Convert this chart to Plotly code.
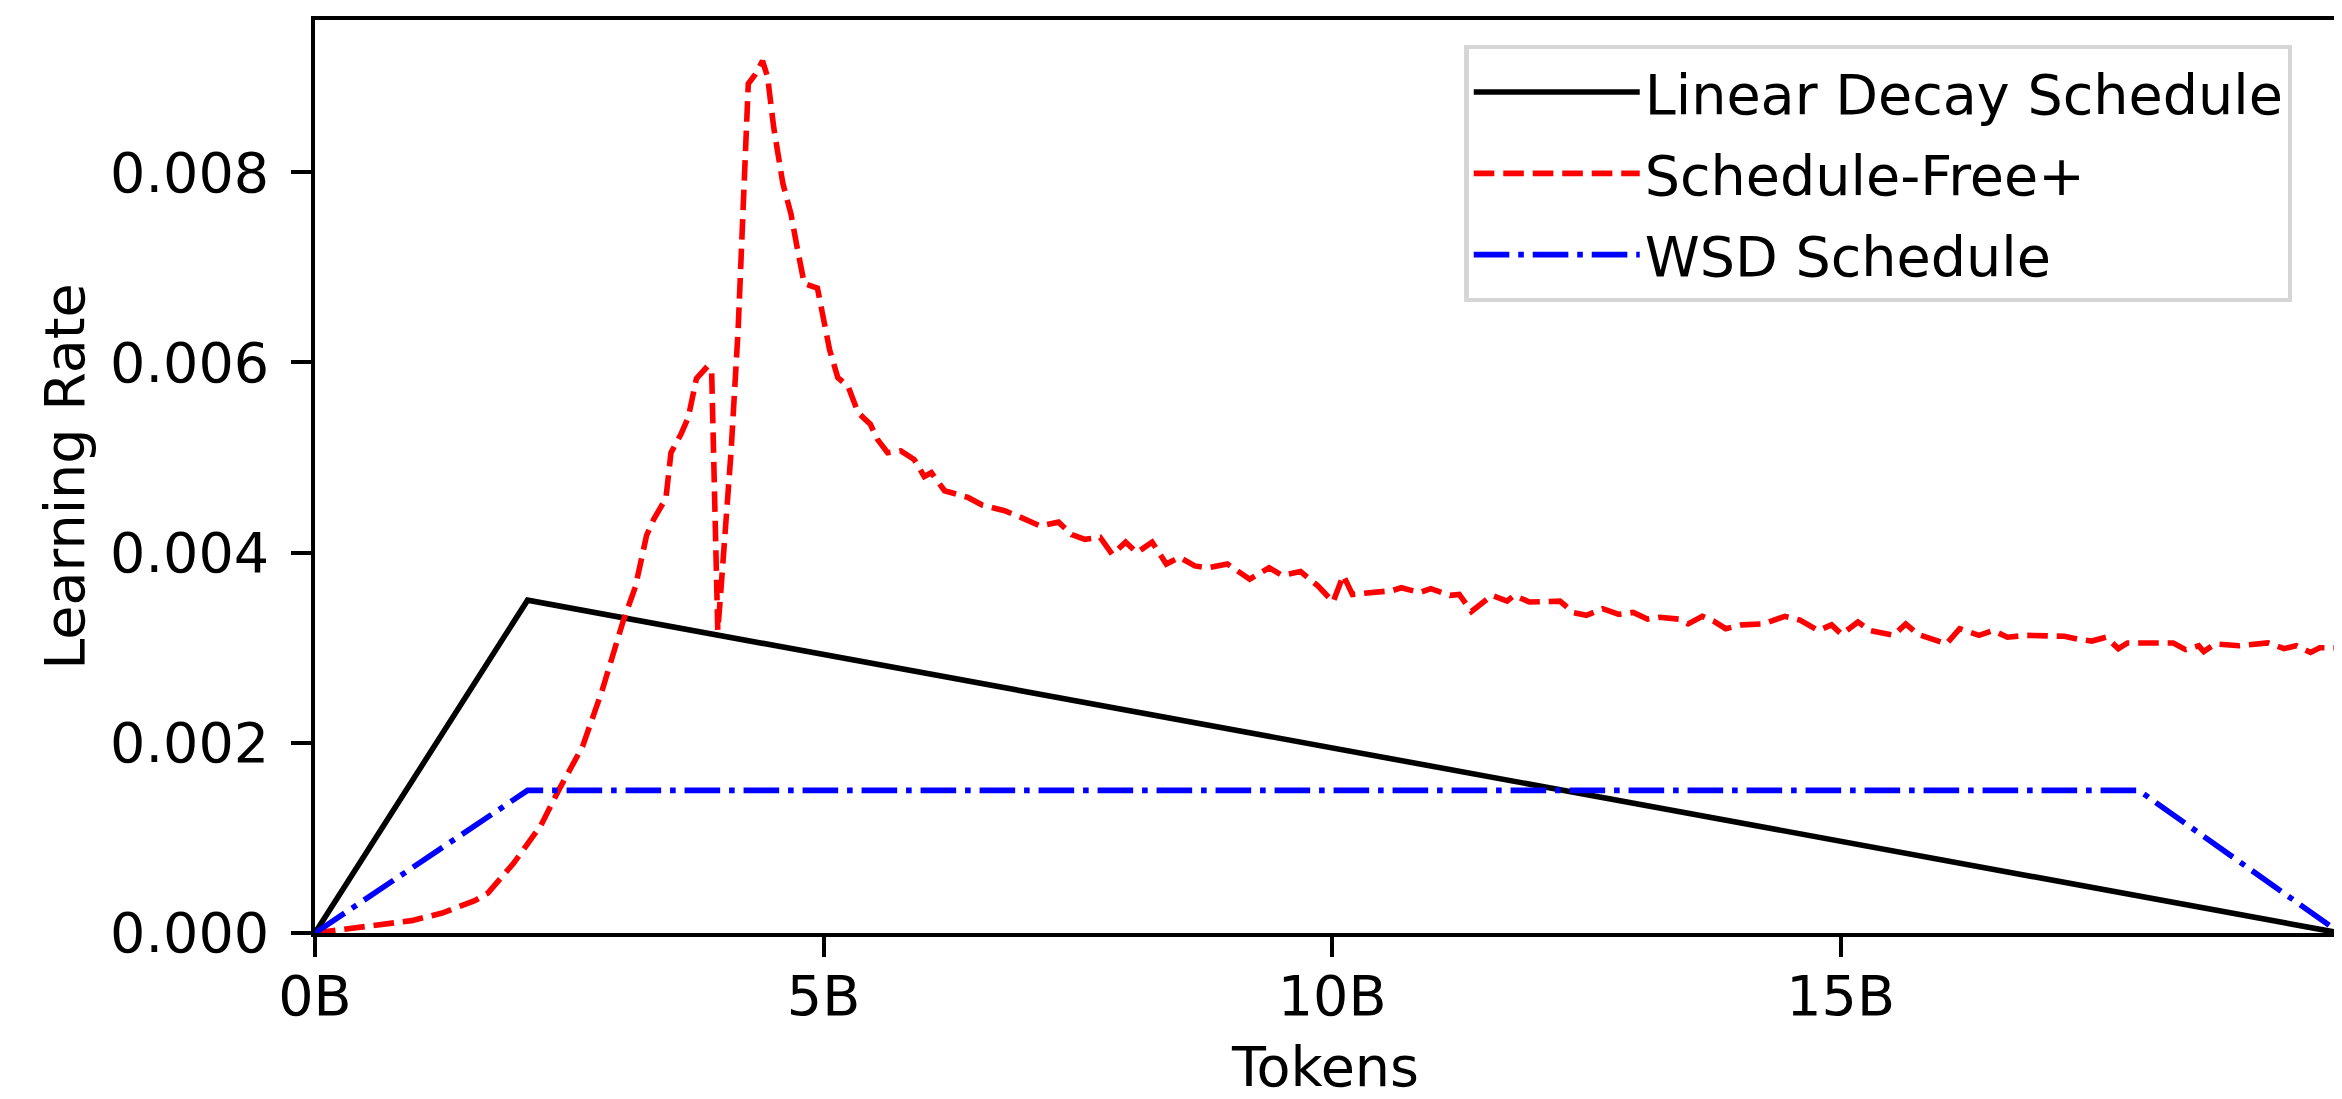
import plotly.graph_objects as go

# ---- data (tokens in billions) ----
tokens_linear = [0.0, 2.09, 19.91]
lr_linear = [0.0, 0.0035, 0.0]

tokens_wsd = [0.0, 2.09, 17.93, 19.91]
lr_wsd = [0.0, 0.0015, 0.0015, 0.0]

tokens_sf = [0.0, 0.32, 0.95, 1.25, 1.57, 1.70, 1.95, 2.22, 2.40, 2.63, 2.82, 3.03, 3.15,
             3.26, 3.33, 3.45, 3.50, 3.60, 3.67, 3.75, 3.86, 3.90, 3.93, 3.96, 3.98, 4.09,
             4.16, 4.21, 4.26, 4.33, 4.40, 4.45, 4.51, 4.60, 4.68, 4.74, 4.81, 4.94, 5.01,
             5.06, 5.14, 5.24, 5.34, 5.46, 5.53, 5.63, 5.76, 5.89, 5.99, 6.06, 6.19, 6.42,
             6.56, 6.69, 6.78, 6.94, 7.13, 7.31, 7.44, 7.57, 7.72, 7.84, 7.97, 8.08, 8.23,
             8.37, 8.50, 8.65, 8.78, 8.97, 9.19, 9.38, 9.51, 9.69, 9.86, 10.01, 10.11, 10.20,
             10.42, 10.59, 10.68, 10.86, 10.97, 11.16, 11.25, 11.37, 11.57, 11.72, 11.79,
             11.94, 12.24, 12.37, 12.50, 12.66, 12.82, 12.96, 13.10, 13.22, 13.41, 13.50,
             13.64, 13.75, 13.87, 14.03, 14.24, 14.45, 14.60, 14.78, 14.91, 15.01, 15.17,
             15.29, 15.52, 15.64, 15.76, 16.04, 16.17, 16.36, 16.50, 16.64, 16.83, 17.01,
             17.20, 17.33, 17.47, 17.61, 17.73, 17.82, 18.13, 18.27, 18.39, 18.52, 18.57,
             18.68, 18.92, 19.06, 19.20, 19.36, 19.48, 19.62, 19.71, 19.89]
lr_sf = [0.0, 0.045e-3, 0.13e-3, 0.21e-3, 0.34e-3, 0.42e-3, 0.73e-3, 1.13e-3, 1.51e-3, 1.96e-3,
         2.54e-3, 3.28e-3, 3.64e-3, 4.18e-3, 4.35e-3, 4.57e-3, 5.05e-3, 5.25e-3, 5.42e-3,
         5.83e-3, 5.96e-3, 5.90e-3, 4.20e-3, 3.18e-3, 3.45e-3, 5.05e-3, 6.34e-3, 7.60e-3,
         8.93e-3, 9.03e-3, 9.17e-3, 9.00e-3, 8.47e-3, 7.88e-3, 7.56e-3, 7.21e-3, 6.83e-3,
         6.78e-3, 6.41e-3, 6.13e-3, 5.84e-3, 5.75e-3, 5.47e-3, 5.35e-3, 5.19e-3, 5.05e-3,
         5.07e-3, 4.98e-3, 4.80e-3, 4.84e-3, 4.65e-3, 4.58e-3, 4.50e-3, 4.46e-3, 4.44e-3,
         4.37e-3, 4.28e-3, 4.32e-3, 4.19e-3, 4.14e-3, 4.16e-3, 3.98e-3, 4.11e-3, 4.00e-3,
         4.11e-3, 3.88e-3, 3.95e-3, 3.86e-3, 3.84e-3, 3.88e-3, 3.72e-3, 3.84e-3, 3.76e-3,
         3.80e-3, 3.65e-3, 3.48e-3, 3.76e-3, 3.56e-3, 3.58e-3, 3.60e-3, 3.63e-3, 3.58e-3,
         3.62e-3, 3.55e-3, 3.56e-3, 3.38e-3, 3.55e-3, 3.49e-3, 3.55e-3, 3.48e-3, 3.49e-3,
         3.37e-3, 3.34e-3, 3.41e-3, 3.35e-3, 3.37e-3, 3.30e-3, 3.32e-3, 3.30e-3, 3.25e-3,
         3.33e-3, 3.28e-3, 3.20e-3, 3.24e-3, 3.25e-3, 3.33e-3, 3.29e-3, 3.18e-3, 3.24e-3,
         3.14e-3, 3.27e-3, 3.18e-3, 3.13e-3, 3.25e-3, 3.14e-3, 3.04e-3, 3.20e-3, 3.13e-3,
         3.18e-3, 3.11e-3, 3.13e-3, 3.13e-3, 3.12e-3, 3.09e-3, 3.07e-3, 3.11e-3, 2.99e-3,
         3.05e-3, 3.06e-3, 3.05e-3, 2.98e-3, 3.02e-3, 2.96e-3, 3.04e-3, 3.02e-3, 3.03e-3,
         3.05e-3, 2.99e-3, 3.02e-3, 2.95e-3, 3.00e-3, 3.00e-3]

x_tick_vals = [0, 5, 10, 15]
x_tick_labels = ["0B", "5B", "10B", "15B"]
y_tick_vals = [0.0, 0.002, 0.004, 0.006, 0.008]
y_tick_labels = ["0.000", "0.002", "0.004", "0.006", "0.008"]

FONT = "DejaVu Sans"
FS = 55.6
LW = 5.6
AXW = 4.4

fig = go.Figure()
fig.add_trace(go.Scatter(x=tokens_linear, y=lr_linear, mode="lines",
                         name="Linear Decay Schedule", legendgroup="a",
                         line=dict(color="black", width=LW, dash="solid")))
fig.add_trace(go.Scatter(x=tokens_sf, y=lr_sf, mode="lines",
                         name="Schedule-Free+", legendgroup="b",
                         line=dict(color="red", width=LW, dash="20.6px,8.9px")))
fig.add_trace(go.Scatter(x=tokens_wsd, y=lr_wsd, mode="lines",
                         name="WSD Schedule", legendgroup="c",
                         line=dict(color="blue", width=LW,
                                   dash="35.6px,8.9px,5.6px,8.9px")))

axis_common = dict(
    showline=True, linecolor="black", linewidth=AXW, mirror=True,
    ticks="outside", ticklen=19.5, tickwidth=AXW, tickcolor="black",
    showgrid=False, zeroline=False, automargin=False,
    tickfont=dict(family=FONT, size=FS, color="black"),
)

# the page body adds an 8px offset, so the figure is 8px smaller on each axis
fig.update_layout(
    width=2334, height=1091,
    margin=dict(l=307, r=6, t=12, b=166),
    paper_bgcolor="white", plot_bgcolor="white",
    font=dict(family=FONT, size=FS, color="black"),
    xaxis=dict(range=[0, 19.87], tickvals=x_tick_vals, ticktext=x_tick_labels,
               title=dict(text="Tokens", font=dict(family=FONT, size=FS), standoff=25),
               ticklabelstandoff=-8, **axis_common),
    yaxis=dict(range=[0, 0.00960], tickvals=y_tick_vals, ticktext=y_tick_labels,
               title=dict(text="Learning Rate", font=dict(family=FONT, size=FS), standoff=9),
               ticklabelstandoff=11, **axis_common),
    legend=dict(x=0.5687, y=0.9726, xanchor="left", yanchor="top",
                bgcolor="rgba(255,255,255,0.8)", bordercolor="#d6d6d6", borderwidth=4.4,
                font=dict(family=FONT, size=FS, color="black"),
                itemwidth=166, tracegroupgap=6, traceorder="grouped"),
    showlegend=True,
)

fig.write_html("out.html")
